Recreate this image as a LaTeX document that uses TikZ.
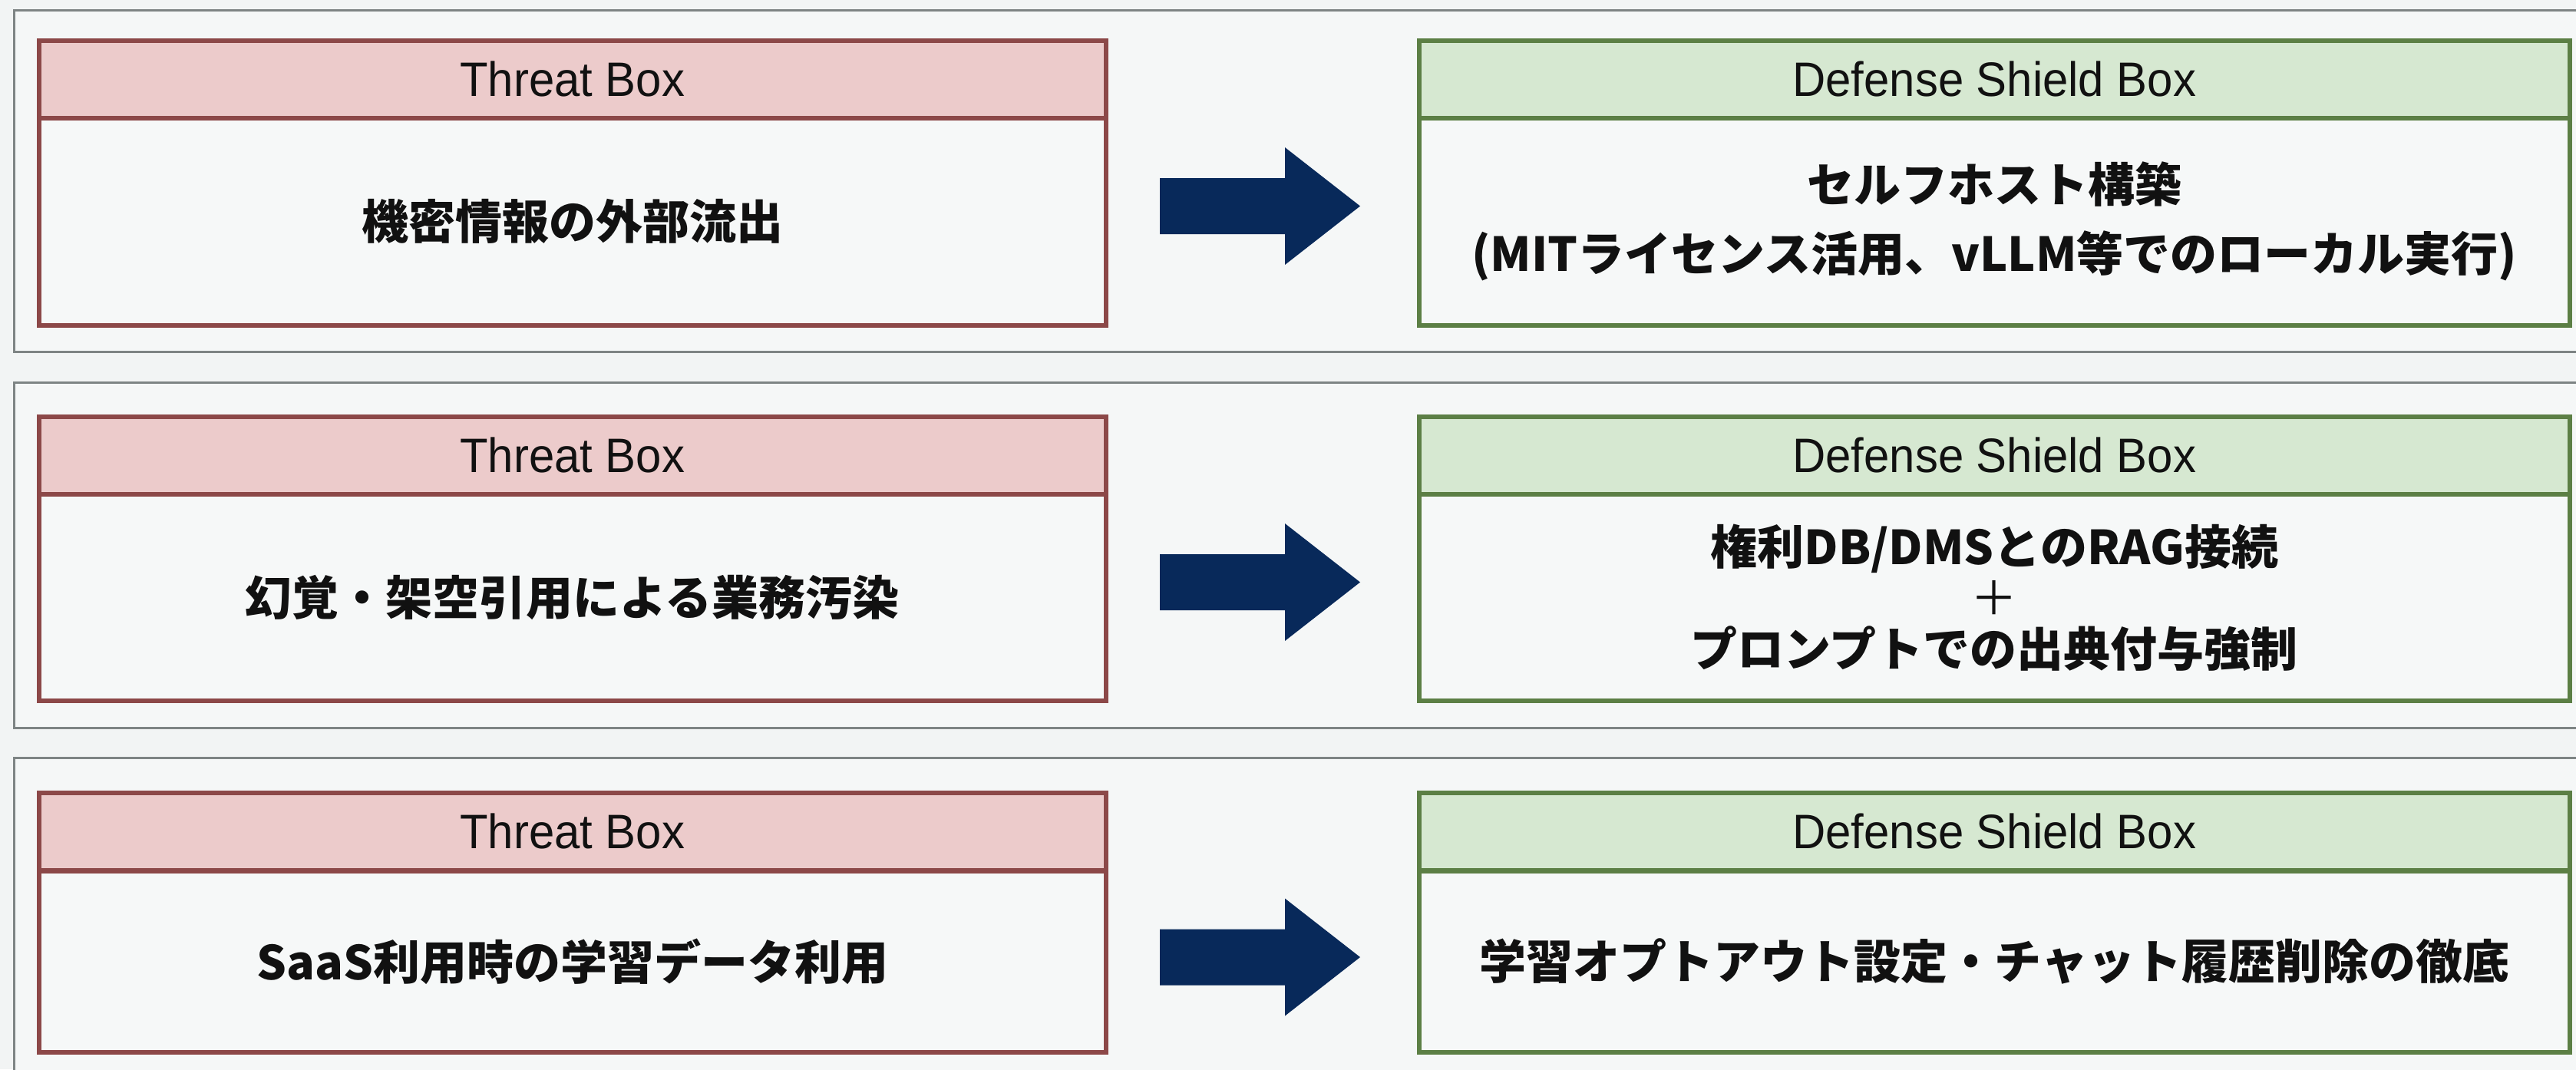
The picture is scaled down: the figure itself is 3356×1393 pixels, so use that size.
\documentclass[tikz,border=0pt]{standalone}
\usepackage{fontspec}
\newfontfamily\jp{Noto Sans CJK JP}
\newfontfamily\hdr[FakeStretch=0.95]{Liberation Sans}
\definecolor{bgc}{HTML}{F2F4F4}
\definecolor{panelfill}{HTML}{F5F7F7}
\definecolor{panelgray}{HTML}{7E8484}
\definecolor{tred}{HTML}{8C4848}
\definecolor{tredfill}{HTML}{ECCBCB}
\definecolor{dgreen}{HTML}{5C7F45}
\definecolor{dgreenfill}{HTML}{D6E8D1}
\definecolor{bodyfill}{HTML}{F6F8F8}
\definecolor{arrowc}{HTML}{08295A}
\definecolor{textc}{HTML}{111111}
\begin{document}
\begin{tikzpicture}[x=1pt,y=-1pt,
  panel/.style={draw=panelgray, line width=3pt, fill=panelfill},
  boxbase/.style={anchor=north west, inner sep=0pt, line width=5.5pt, text=textc},
  thead/.style={boxbase, draw=tred, fill=tredfill, minimum width=1390pt, minimum height=101pt, font=\hdr\fontsize{63}{70}\selectfont},
  tbody/.style={boxbase, draw=tred, fill=bodyfill, minimum width=1390pt, align=center, font=\jp\bfseries\fontsize{61}{90}\selectfont},
  dhead/.style={boxbase, draw=dgreen, fill=dgreenfill, minimum width=1499pt, minimum height=101pt, font=\hdr\fontsize{63}{70}\selectfont},
  dbody/.style={boxbase, draw=dgreen, fill=bodyfill, minimum width=1499pt, align=center, font=\jp\bfseries\fontsize{61}{90}\selectfont},
  bigarrow/.style={fill=arrowc}
]
\useasboundingbox (0,0) rectangle (3356,1393);
\clip (0,0) rectangle (3356,1393);
\fill[bgc] (0,0) rectangle (3356,1393);

% panels
\draw[panel] (18,13) rectangle (3380,458);
\draw[panel] (18,498) rectangle (3380,948);
\draw[panel] (18,987) rectangle (3380,1420);

% row 1
\node[thead] (th1) at (48,50) {Threat Box};
\node[tbody, minimum height=270pt] (tb1) at (48,151) {機密情報の外部流出};
\node[dhead] (dh1) at (1846,50) {Defense Shield Box};
\node[dbody, minimum height=270pt] (db1) at (1846,151) {セルフホスト構築\\(MITライセンス活用、vLLM等でのローカル実行)};

% row 2
\node[thead] (th2) at (48,540) {Threat Box};
\node[tbody, minimum height=269pt] (tb2) at (48,641) {幻覚・架空引用による業務汚染};
\node[dhead] (dh2) at (1846,540) {Defense Shield Box};
\node[dbody, minimum height=269pt, font=\jp\bfseries\fontsize{61}{66.5}\selectfont] (db2) at (1846,641) {権利DB/DMSとのRAG接続\\{\mdseries ＋}\\プロンプトでの出典付与強制};

% row 3
\node[thead] (th3) at (48,1030) {Threat Box};
\node[tbody, minimum height=236pt] (tb3) at (48,1132) {SaaS利用時の学習データ利用};
\node[dhead] (dh3) at (1846,1030) {Defense Shield Box};
\node[dbody, minimum height=236pt] (db3) at (1846,1132) {学習オプトアウト設定・チャット履歴削除の徹底};

% arrows
\foreach \yc in {268.5, 758.5, 1247} {
  \fill[bigarrow] (1511,\yc-36.5) -- (1674,\yc-36.5) -- (1674,\yc-76.5) -- (1772,\yc)
    -- (1674,\yc+76.5) -- (1674,\yc+36.5) -- (1511,\yc+36.5) -- cycle;
}
\end{tikzpicture}
\end{document}
